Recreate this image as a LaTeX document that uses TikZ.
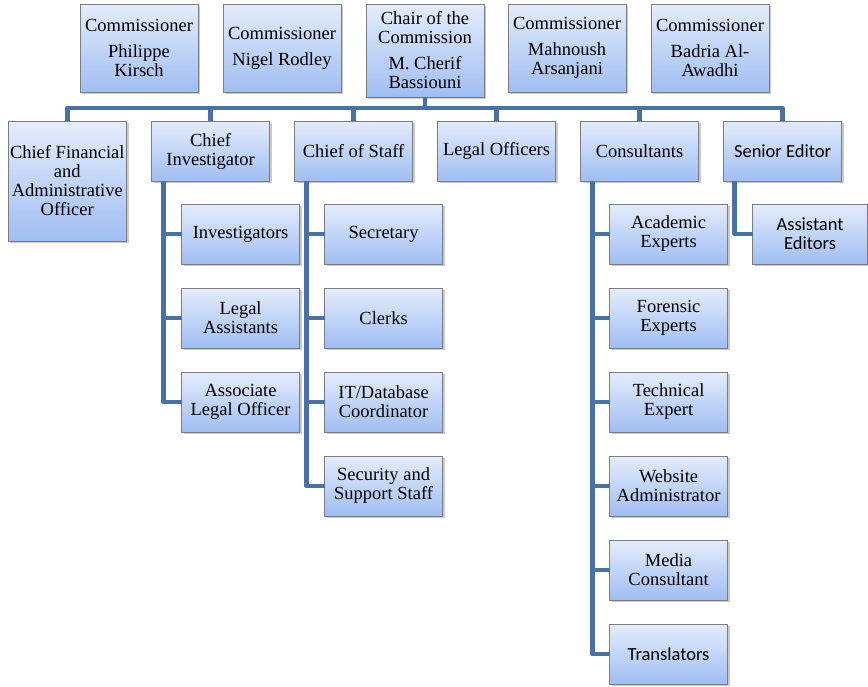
\documentclass[tikz,border=0pt]{standalone}
\usepackage{fontspec}
\setmainfont{Liberation Serif}
\newfontfamily\calibri{Carlito}
\usepackage{tikz}
\usetikzlibrary{positioning,shadows}

\definecolor{boxtop}{RGB}{228,236,252}
\definecolor{boxbot}{RGB}{160,190,242}
\definecolor{linkblue}{RGB}{72,113,165}
\definecolor{boxline}{RGB}{125,125,125}

\tikzset{
  orgbox/.style={draw=boxline, line width=0.8pt, top color=boxtop, bottom color=boxbot,
    minimum width=118pt, minimum height=60pt, inner sep=2pt, outer sep=0pt, align=center,
    font=\fontsize{18.5}{19}\selectfont,
    drop shadow={shadow xshift=2pt, shadow yshift=-2pt, opacity=0.35, fill=black!60}},
  topbox/.style={orgbox, minimum height=88pt},
  link/.style={draw=linkblue, line width=4.5pt, line join=round}
}

\begin{document}
\begin{tikzpicture}[x=1pt, y=-1pt]
\useasboundingbox (0,0) rectangle (868,686);

%% COMMISSIONERS
\node[topbox, anchor=north west] at (80,4) (comm_kirsch){Commissioner\\[7pt]Philippe\\Kirsch};
\node[topbox, right=25pt of comm_kirsch.north east, anchor=north west](comm_rodley){Commissioner\\[7pt]Nigel Rodley};
\node[topbox, minimum height=93pt, right=25pt of comm_rodley.north east, anchor=north west](chair){Chair of the\\Commission\\[7pt]M. Cherif\\Bassiouni};
\node[topbox, right=24pt of chair.north east, anchor=north west](comm_arsanjani){Commissioner\\[7pt]Mahnoush\\Arsanjani};
\node[topbox, right=25pt of comm_arsanjani.north east, anchor=north west](comm_awadhi){Commissioner\\[7pt]Badria Al-\\Awadhi};

%% SECOND ROW
\node[orgbox, minimum height=120pt, anchor=north west] at (8,121) (cfao){Chief Financial\\and\\Administrative\\Officer};
\node[orgbox, right=25pt of cfao.north east, anchor=north west](chief_inv){Chief\\Investigator};
\node[orgbox, right=25pt of chief_inv](chief_staff){Chief of Staff};
\node[orgbox, right=25pt of chief_staff](legal_off){Legal Officers};
\node[orgbox, right=25pt of legal_off](consultants){Consultants};
\node[orgbox, right=25pt of consultants, font=\calibri\fontsize{18.5}{19}\selectfont](senior_ed){Senior Editor};

\coordinate (bar) at (chair.south |- 0,108);
\foreach \n in {cfao, chief_inv, chief_staff, legal_off, consultants, senior_ed}
  \draw[link] (chair.south) -- (bar) -| (\n.north);

%% INVESTIGATION
\node[orgbox, below=23pt of chief_inv.south west, anchor=north west, xshift=30pt](investigators){Investigators};
\node[orgbox, below=24pt of investigators](legal_assist){Legal\\Assistants};
\node[orgbox, below=24pt of legal_assist](assoc_legal){Associate\\Legal Officer};

\foreach \n in {investigators, legal_assist, assoc_legal}
  \draw[link] ([xshift=12pt]chief_inv.south west) |- (\n.west);

%% STAFF
\node[orgbox, below=23pt of chief_staff.south west, anchor=north west, xshift=30pt](secretary){Secretary};
\node[orgbox, below=24pt of secretary](clerks){Clerks};
\node[orgbox, below=24pt of clerks](it_coord){IT/Database\\Coordinator};
\node[orgbox, below=24pt of it_coord](security){Security and\\Support Staff};

\foreach \n in {secretary, clerks, it_coord, security}
  \draw[link] ([xshift=12pt]chief_staff.south west) |- (\n.west);

%% CONSULTANTS
\node[orgbox, below=23pt of consultants.south west, anchor=north west, xshift=29pt](academic){Academic\\Experts};
\node[orgbox, below=24pt of academic](forensic){Forensic\\Experts};
\node[orgbox, below=24pt of forensic](technical){Technical\\Expert};
\node[orgbox, below=24pt of technical](website){Website\\Administrator};
\node[orgbox, below=24pt of website](media){Media\\Consultant};
\node[orgbox, below=24pt of media, font=\calibri\fontsize{18.5}{19}\selectfont](translators){Translators};

\foreach \n in {academic, forensic, technical, website, media, translators}
  \draw[link] ([xshift=12pt]consultants.south west) |- (\n.west);

%% EDITING
\node[orgbox, below=23pt of senior_ed.south west, anchor=north west, xshift=29pt, minimum width=115pt,
  font=\calibri\fontsize{18.5}{19}\selectfont](assist_ed){Assistant\\Editors};

\draw[link] ([xshift=11pt]senior_ed.south west) |- (assist_ed.west);

\end{tikzpicture}
\end{document}
